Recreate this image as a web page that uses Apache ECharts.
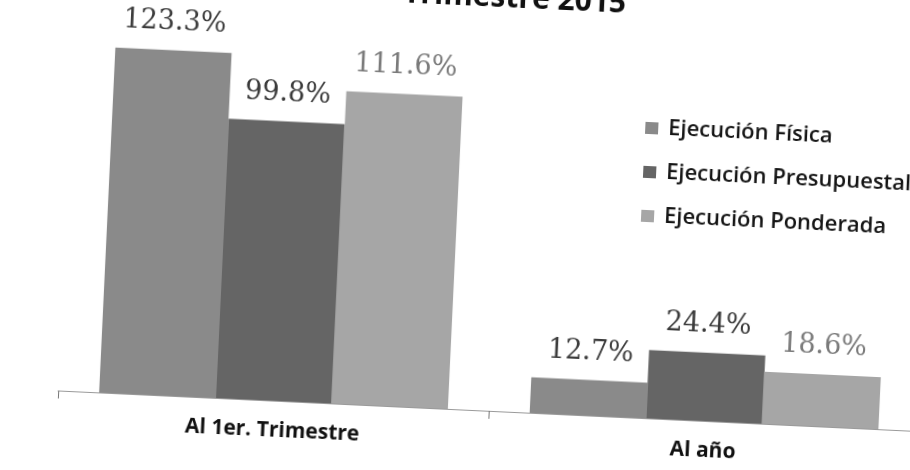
<!DOCTYPE html>
<html>
<head>
<meta charset="utf-8">
<script src="https://cdn.jsdelivr.net/npm/echarts@6/dist/echarts.min.js"></script>
<style>
  html, body { margin: 0; padding: 0; width: 910px; height: 470px; overflow: hidden; background: #fff; }
  #chart { position: absolute; left: -30px; top: -35px; width: 970px; height: 540px; background: #fff; transform: rotate(2.7deg); transform-origin: 50% 50%; }
</style>
</head>
<body>
<div id="chart"></div>
<script>
const categories = ['Al 1er. Trimestre', 'Al año'];
const seriesNames = ['Ejecución Física', 'Ejecución Presupuestal', 'Ejecución Ponderada'];
const fisica = [123.3, 12.7];
const presupuestal = [99.8, 24.4];
const ponderada = [111.6, 18.6];
const titleText = 'Trimestre 2015';

const chart = echarts.init(document.getElementById('chart'), null, { renderer: 'canvas' });

function labelOf(color) {
  return {
    show: true,
    position: 'top',
    distance: 14,
    formatter: p => p.value.toFixed(1) + '%',
    fontFamily: 'DejaVu Serif',
    fontSize: 27,
    color: color
  };
}

chart.setOption({
  animation: false,
  backgroundColor: '#ffffff',
  title: {
    text: titleText,
    left: 422,
    top: 16,
    padding: 0,
    textStyle: { fontFamily: 'Open Sans', fontWeight: 'bold', fontSize: 30, color: '#111' }
  },
  legend: {
    orient: 'vertical',
    left: 670,
    top: 143,
    padding: 0,
    itemWidth: 13,
    itemHeight: 12,
    itemGap: 22,
    icon: 'rect',
    textStyle: { fontFamily: 'Open Sans', fontWeight: 600, fontSize: 22, lineHeight: 21, color: '#151515', padding: [0, 0, 0, 5] },
    data: seriesNames
  },
  grid: { left: 96, right: 12, top: 66, bottom: 96, containLabel: false },
  xAxis: {
    type: 'category',
    data: categories,
    axisLine: { show: true, lineStyle: { color: '#9a9a9a', width: 1 } },
    axisTick: { show: true, length: 8, lineStyle: { color: '#777' } },
    axisLabel: { margin: 20, fontFamily: 'Open Sans', fontWeight: 'bold', fontSize: 21, color: '#111' }
  },
  yAxis: {
    type: 'value',
    min: 0,
    max: 135,
    show: false,
    splitLine: { show: false }
  },
  series: [
    { name: seriesNames[0], type: 'bar', data: fisica, barGap: '0%', barCategoryGap: '19%',
      itemStyle: { color: '#8a8a8a' }, label: labelOf('#3c3c3c') },
    { name: seriesNames[1], type: 'bar', data: presupuestal, barGap: '0%', barCategoryGap: '19%',
      itemStyle: { color: '#656565' }, label: labelOf('#3a3a3a') },
    { name: seriesNames[2], type: 'bar', data: ponderada, barGap: '0%', barCategoryGap: '19%',
      itemStyle: { color: '#a6a6a6' }, label: labelOf('#7a7a7a') }
  ]
});
</script>
</body>
</html>
